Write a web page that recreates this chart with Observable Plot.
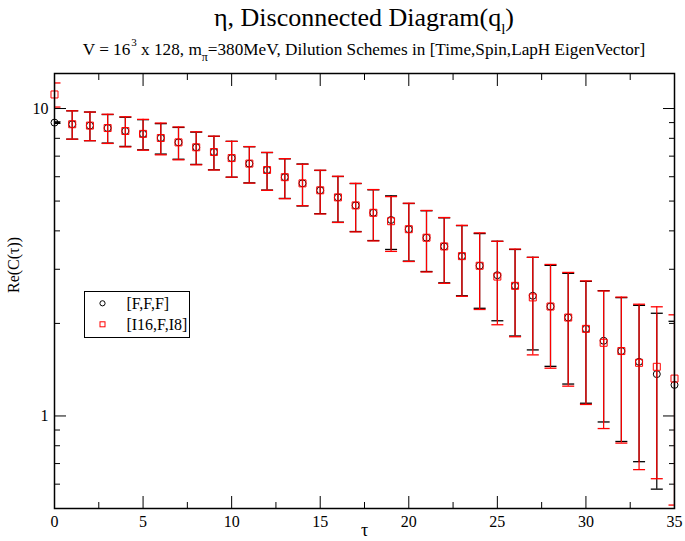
<!DOCTYPE html>
<html><head><meta charset="utf-8">
<script src="https://cdn.jsdelivr.net/npm/d3@7"></script>
<script src="https://cdn.jsdelivr.net/npm/@observablehq/plot@0.6"></script>
<style>
body{margin:0;background:#fff;}
#wrap{position:relative;width:685px;height:541px;font-family:"Liberation Serif","Times New Roman","DejaVu Serif",serif;color:#000;overflow:hidden;}
.t{position:absolute;left:0;width:728px;text-align:center;white-space:nowrap;}
#title{top:5px;font-size:26px;line-height:26px;}
#sub{top:40.5px;font-size:17.2px;line-height:17px;}
.sup{font-size:11px;position:relative;top:-0.8em;margin-left:1px;}
.sub{font-size:12px;position:relative;top:0.5em;}
#chart{position:absolute;left:0;top:0;}
#legend{position:absolute;left:84px;top:291px;}
</style></head>
<body>
<div id="wrap">
  <div id="chart"></div>
  <div class="t" id="title">η, Disconnected Diagram(q<span class="sub" style="font-size:15px">l</span>)</div>
  <div class="t" id="sub">V = 16<span class="sup">3</span> x 128, m<span class="sub">π</span>=380MeV, Dilution Schemes in [Time,Spin,LapH EigenVector]</div>
  <svg id="legend" width="107" height="48" font-family="Liberation Serif, Times New Roman, DejaVu Serif, serif" font-size="16">
    <rect x="0.5" y="0.5" width="105" height="46" fill="#fff" stroke="#000" stroke-width="1"/>
    <circle cx="18.5" cy="12.3" r="2.6" fill="none" stroke="#000" stroke-width="1"/>
    <rect x="16" y="30.8" width="5" height="5" fill="none" stroke="#ff0000" stroke-width="1"/>
    <text x="42.4" y="17.5">[F,F,F]</text>
    <text x="42.4" y="39">[I16,F,I8]</text>
  </svg>
</div>
<script>
const seriesNames = ["[F,F,F]", "[I16,F,I8]"];
const tau = [0,1,2,3,4,5,6,7,8,9,10,11,12,13,14,15,16,17,18,19,20,21,22,23,24,25,26,27,28,29,30,31,32,33,34,35];
const fffMean = [9.00,8.89,8.80,8.64,8.45,8.27,8.02,7.76,7.48,7.22,6.90,6.62,6.31,5.98,5.71,5.42,5.14,4.84,4.58,4.34,4.05,3.80,3.56,3.31,3.08,2.87,2.65,2.46,2.27,2.09,1.92,1.756,1.626,1.50,1.368,1.262];
const fffErr  = [0.05,0.94,0.94,0.92,0.92,0.93,0.91,0.92,0.90,0.90,0.92,0.89,0.88,0.88,0.89,0.87,0.87,0.86,0.86,0.86,0.86,0.85,0.85,0.85,0.84,0.83,0.83,0.82,0.82,0.82,0.82,0.80,0.80,0.79,0.79,0.77];
const i16Mean = [11.11,8.89,8.80,8.64,8.45,8.27,8.02,7.76,7.48,7.22,6.90,6.62,6.31,5.98,5.71,5.42,5.14,4.84,4.58,4.30,4.05,3.80,3.56,3.31,3.08,2.84,2.65,2.43,2.27,2.09,1.92,1.73,1.626,1.489,1.445,1.323];
const i16Err  = [1.00,0.94,0.94,0.94,0.95,0.95,0.95,0.95,0.92,0.91,0.92,0.90,0.89,0.89,0.88,0.88,0.88,0.87,0.87,0.87,0.87,0.86,0.86,0.86,0.86,0.86,0.84,0.85,0.84,0.84,0.83,0.82,0.81,0.82,0.82,0.81];
const xMajor = [0,5,10,15,20,25,30,35];
const xMinor = [2.5,7.5,12.5,17.5,22.5,27.5,32.5];
const yMajor = [1,10];
const yMinor = [0.6,0.7,0.8,0.9,2,3,4,5,6,7,8,9];

const fff = tau.map((t,i)=>({tau:t, v:fffMean[i], e:fffErr[i]}));
const i16 = tau.map((t,i)=>({tau:t, v:i16Mean[i], e:i16Err[i]}));

const cap = {draw(ctx, size){ const w = Math.sqrt(size/Math.PI); ctx.moveTo(-w,0); ctx.lineTo(w,0); }};

function errMarks(data, color){
  return [
    Plot.ruleX(data, {x:"tau", y1:d=>d.v-d.e, y2:d=>d.v+d.e, stroke:color, strokeWidth:1.2, clip:true}),
    Plot.dot(data, {x:"tau", y:d=>d.v+d.e, symbol:cap, r:6, fill:"none", stroke:color, strokeWidth:1.3, clip:true}),
    Plot.dot(data, {x:"tau", y:d=>d.v-d.e, symbol:cap, r:6, fill:"none", stroke:color, strokeWidth:1.3, clip:true})
  ];
}

const chart = Plot.plot({
  width: 685, height: 541,
  marginTop: 73, marginLeft: 54, marginRight: 11, marginBottom: 33,
  style: {fontFamily:"'Liberation Serif','Times New Roman','DejaVu Serif',serif", fontSize:"16px", background:"transparent", color:"#000"},
  x: {domain:[0,35]},
  y: {type:"log", domain:[0.5,13]},
  marks: [
    Plot.axisX(xMajor, {anchor:"bottom", tickSize:0, tickPadding:7, label:null}),
    Plot.axisX(xMajor, {anchor:"bottom", tickSize:-12, fill:"none", label:null}),
    Plot.axisX(xMinor, {anchor:"bottom", tickSize:-6, fill:"none", label:null}),
    Plot.axisX(xMajor, {anchor:"top", tickSize:-12, fill:"none", label:null}),
    Plot.axisX(xMinor, {anchor:"top", tickSize:-6, fill:"none", label:null}),
    Plot.axisY(yMajor, {anchor:"left", tickSize:0, tickPadding:6, tickFormat:d=>String(d), label:null}),
    Plot.axisY(yMajor, {anchor:"left", tickSize:-12, fill:"none", label:null}),
    Plot.axisY(yMinor, {anchor:"left", tickSize:-6, fill:"none", label:null}),
    Plot.axisY(yMajor, {anchor:"right", tickSize:-12, fill:"none", label:null}),
    Plot.axisY(yMinor, {anchor:"right", tickSize:-6, fill:"none", label:null}),
    ...errMarks(fff, "#000000"),
    Plot.dot(fff, {x:"tau", y:"v", symbol:"circle", r:3.5, fill:"none", stroke:"#000000", strokeWidth:1}),
    ...errMarks(i16, "#ff0000"),
    Plot.dot(i16, {x:"tau", y:"v", symbol:"square", r:3.95, fill:"none", stroke:"#ff0000", strokeWidth:1}),
    Plot.frame({stroke:"#000", strokeWidth:1.5}),
    Plot.text(["Re(C(τ))"], {frameAnchor:"left", rotate:-90, dx:-41, dy:2, fontSize:16}),
    Plot.text(["τ"], {frameAnchor:"bottom", dy:27.5, fontSize:18})
  ]
});
document.getElementById("chart").appendChild(chart);
</script>
</body></html>
